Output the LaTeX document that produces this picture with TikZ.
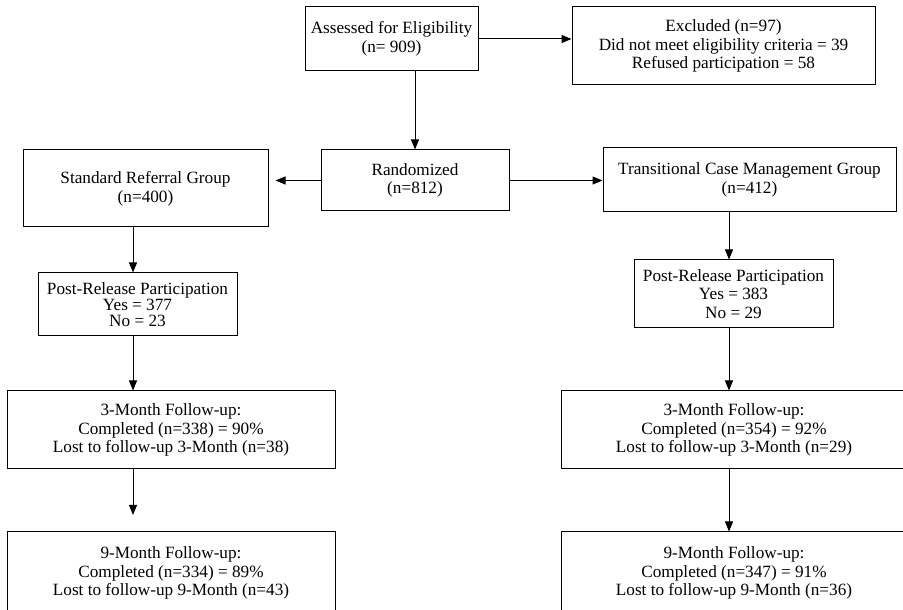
\documentclass[tikz,border=0pt]{standalone}
\usepackage{fontspec}
\setmainfont{Liberation Serif}
\usetikzlibrary{arrows.meta}
\begin{document}
\begin{tikzpicture}[x=1pt,y=1pt,
  box/.style={draw=drawColor,line width=1pt,inner sep=0pt,align=center,
    font=\fontsize{17.2}{18.6}\selectfont},
  flow/.style={draw=drawColor,line width=1pt,-{Triangle[length=10pt,width=8pt]}}]
\definecolor{fillColor}{RGB}{255,255,255}
\definecolor{drawColor}{RGB}{0,0,0}
\path[use as bounding box,fill=fillColor] (0,0) rectangle (903,610);
\begin{scope}
\path[clip] (0,0) rectangle (903,610);

\node[box,minimum width=173,minimum height=64] (assess) at (391.5,571) {Assessed for Eligibility\\(n= 909)};
\node[box,minimum width=303,minimum height=78] (excl) at (723.5,564) {Excluded (n=97)\\Did not meet eligibility criteria = 39\\Refused participation = 58};
\node[box,minimum width=188,minimum height=61] (rand) at (415,429.5) {Randomized\\(n=812)};

\node[box,minimum width=245,minimum height=77] (std) at (145.5,421.5) {Standard Referral Group\\(n=400)};
\node[box,minimum width=293,minimum height=64] (tcm) at (749.5,430) {Transitional Case Management Group\\(n=412)};

\node[box,minimum width=199,minimum height=63,font=\fontsize{17.2}{16}\selectfont] (postL) at (137.5,305.5) {Post-Release Participation\\Yes = 377\\No = 23};
\node[box,minimum width=199,minimum height=68] (postR) at (733.5,316) {Post-Release Participation\\Yes = 383\\No = 29};

\node[box,minimum width=328,minimum height=78] (threeL) at (171,180) {3-Month Follow-up:\\Completed (n=338) = 90\%\\Lost to follow-up 3-Month (n=38)};
\node[box,minimum width=346,minimum height=78] (threeR) at (734,180) {3-Month Follow-up:\\Completed (n=354) = 92\%\\Lost to follow-up 3-Month (n=29)};

% bottom row runs off the page edge
\node[box,minimum width=328,minimum height=82] (nineL) at (171,37) {9-Month Follow-up:\\Completed (n=334) = 89\%\\Lost to follow-up 9-Month (n=43)};
\node[box,minimum width=346,minimum height=82] (nineR) at (734,37) {9-Month Follow-up:\\Completed (n=347) = 91\%\\Lost to follow-up 9-Month (n=36)};

\coordinate (colL) at (133,0);
\coordinate (colR) at (729,0);
\coordinate (stopL) at (133,95);

\path[flow] (assess.east) -- (assess.east -| excl.west);
\path[flow] (assess.south -| rand.north) -- (rand.north);
\path[flow,shorten >=7pt] (rand.west) -- (rand.west -| std.east);
\path[flow] (rand.east) -- (rand.east -| tcm.west);

\path[flow] (std.south -| colL) -- (postL.north -| colL);
\path[flow] (postL.south -| colL) -- (threeL.north -| colL);
\path[flow] (threeL.south -| colL) -- (stopL);

\path[flow] (tcm.south -| colR) -- (postR.north -| colR);
\path[flow] (postR.south -| colR) -- (threeR.north -| colR);
\path[flow] (threeR.south -| colR) -- (nineR.north -| colR);
\end{scope}
\end{tikzpicture}
\end{document}
